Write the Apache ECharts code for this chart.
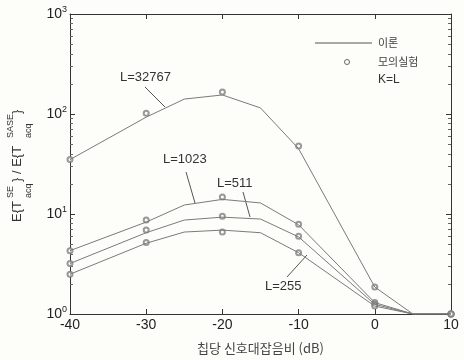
<!DOCTYPE html>
<html>
<head>
<meta charset="utf-8">
<script src="https://cdn.jsdelivr.net/npm/echarts@6/dist/echarts.min.js"></script>
<style>
html, body { margin: 0; padding: 0; background: #fdfdfa; }
#main { width: 464px; height: 360px; }
</style>
</head>
<body>
<div id="main"></div>
<script>
// 이론 곡선 (theory) x 위치
var xTheory = [-40, -30, -25, -20, -15, -10, 0, 5, 10];
var theory32767 = [35, 93, 141, 155, 115, 45, 1.86, 1, 1];
var theory1023 = [4.3, 8.3, 12.3, 14.0, 12.9, 7.8, 1.3, 1, 1];
var theory511 = [3.2, 6.5, 8.7, 9.3, 8.9, 5.9, 1.25, 1, 1];
var theory255 = [2.5, 5.1, 6.6, 6.9, 6.5, 4.1, 1.2, 1, 1];

// 모의실험 (simulation) 점
var xSim = [-40, -30, -20, -10, 0, 10];
var sim32767 = [35, 102, 166, 48, 1.86, 1];
var sim1023 = [4.3, 8.7, 14.8, 7.9, 1.3, 1];
var sim511 = [3.2, 6.9, 9.5, 6.0, 1.25, 1];
var sim255 = [2.5, 5.2, 6.6, 4.1, 1.2, 1];

var lineColor = '#7a7a7a';
var axisColor = '#333';
var font = '"Liberation Sans", Arial, sans-serif';
var krFont = '"Noto Sans CJK KR", sans-serif';

function pairs(xs, ys) { return xs.map(function (x, i) { return [x, ys[i]]; }); }

function theoryLine(name, ys) {
    return {
        name: name, type: 'line', data: pairs(xTheory, ys),
        showSymbol: false, symbol: 'none', silent: true,
        lineStyle: { color: lineColor, width: 1 }
    };
}
function simPoints(name, ys) {
    return {
        name: name, type: 'scatter', data: pairs(xSim, ys),
        symbol: 'emptyCircle', symbolSize: 5, silent: true,
        itemStyle: { color: '#808080', borderWidth: 1 }
    };
}

var chart = echarts.init(document.getElementById('main'));

var yAxisBase = {
    type: 'log', logBase: 10, min: 1, max: 1000,
    axisLine: { show: true, onZero: false, lineStyle: { color: axisColor, width: 1 } },
    axisTick: { show: true, inside: true, length: 5, lineStyle: { color: axisColor } },
    minorTick: { show: true, splitNumber: 9, length: 3, lineStyle: { color: '#666' } },
    splitLine: { show: false }
};

var option = {
    backgroundColor: '#fdfdfa',
    animation: false,
    grid: { left: 70, right: 13, top: 14, bottom: 46 },
    xAxis: [{
        type: 'value', min: -40, max: 10, interval: 10,
        axisLine: { onZero: false, lineStyle: { color: axisColor } },
        axisTick: { inside: true, length: 5, lineStyle: { color: axisColor } },
        splitLine: { show: false },
        axisLabel: { color: '#222', fontSize: 14, fontFamily: font, margin: 4 },
        name: '칩당 신호대잡음비 (dB)', nameLocation: 'middle', nameGap: 28,
        nameTextStyle: { color: '#444', fontSize: 13, fontFamily: krFont }
    }, {
        type: 'value', position: 'top', min: -40, max: 10, interval: 10,
        axisLine: { show: true, onZero: false, lineStyle: { color: axisColor } },
        axisTick: { inside: true, length: 5, lineStyle: { color: axisColor } },
        axisLabel: { show: false }, splitLine: { show: false }
    }],
    yAxis: [Object.assign({}, yAxisBase, {
        axisLabel: {
            margin: 3, fontFamily: font, color: '#222',
            formatter: function (v) {
                return '{b|10}{e|' + Math.round(Math.log10(v)) + '}';
            },
            rich: {
                b: { fontSize: 14, fontFamily: font, color: '#222' },
                e: { fontSize: 9, fontFamily: font, color: '#222', padding: [0, 0, 9, 0] }
            }
        }
    }), Object.assign({}, yAxisBase, { position: 'right', axisLabel: { show: false } })],
    series: [
        theoryLine('L=32767', theory32767),
        theoryLine('L=1023', theory1023),
        theoryLine('L=511', theory511),
        theoryLine('L=255', theory255),
        simPoints('L=32767 sim', sim32767),
        simPoints('L=1023 sim', sim1023),
        simPoints('L=511 sim', sim511),
        simPoints('L=255 sim', sim255)
    ],
    graphic: [
        // 곡선 이름표와 지시선
        { type: 'text', left: 120, top: 71, style: { text: 'L=32767', font: '13px ' + font, fill: '#333' } },
        { type: 'line', shape: { x1: 145, y1: 87, x2: 165, y2: 107 }, style: { stroke: '#555', lineWidth: 1 } },
        { type: 'text', left: 163, top: 153, style: { text: 'L=1023', font: '13px ' + font, fill: '#333' } },
        { type: 'line', shape: { x1: 186, y1: 172, x2: 195, y2: 203 }, style: { stroke: '#555', lineWidth: 1 } },
        { type: 'text', left: 217, top: 177, style: { text: 'L=511', font: '13px ' + font, fill: '#333' } },
        { type: 'line', shape: { x1: 243, y1: 192, x2: 250, y2: 217 }, style: { stroke: '#555', lineWidth: 1 } },
        { type: 'text', left: 265, top: 280, style: { text: 'L=255', font: '13px ' + font, fill: '#333' } },
        { type: 'line', shape: { x1: 287, y1: 277, x2: 307, y2: 255 }, style: { stroke: '#555', lineWidth: 1 } },
        // 범례
        { type: 'line', shape: { x1: 315, y1: 43, x2: 372, y2: 43 }, style: { stroke: '#555', lineWidth: 1 } },
        { type: 'circle', shape: { cx: 347, cy: 62, r: 2.5 }, style: { fill: 'none', stroke: '#666', lineWidth: 1 } },
        { type: 'text', x: 378, y: 43, style: { text: '이론', font: '11px ' + krFont, fill: '#444', verticalAlign: 'middle' } },
        { type: 'text', x: 378, y: 62, style: { text: '모의실험', font: '11px ' + krFont, fill: '#444', verticalAlign: 'middle' } },
        { type: 'text', x: 378, y: 80, style: { text: 'K=L', font: '12px ' + font, fill: '#333', verticalAlign: 'middle' } },
        // y축 제목 (회전)
        {
            type: 'group', x: 24, y: 222, rotation: Math.PI / 2,
            children: [
                { type: 'text', x: 0, y: 0, style: { text: 'E{T', font: '13px ' + font, fill: '#333', verticalAlign: 'bottom' } },
                { type: 'text', x: 24, y: -9, style: { text: 'SE', font: '9px ' + font, fill: '#333', verticalAlign: 'bottom' } },
                { type: 'text', x: 24, y: 9, style: { text: 'acq', font: '9px ' + font, fill: '#333', verticalAlign: 'bottom' } },
                { type: 'text', x: 40, y: 0, style: { text: '} / E{T', font: '13px ' + font, fill: '#333', verticalAlign: 'bottom' } },
                { type: 'text', x: 84, y: -9, style: { text: 'SASE', font: '9px ' + font, fill: '#333', verticalAlign: 'bottom' } },
                { type: 'text', x: 84, y: 9, style: { text: 'acq', font: '9px ' + font, fill: '#333', verticalAlign: 'bottom' } },
                { type: 'text', x: 108, y: 0, style: { text: '}', font: '13px ' + font, fill: '#333', verticalAlign: 'bottom' } }
            ]
        }
    ]
};
chart.setOption(option);
</script>
</body>
</html>
